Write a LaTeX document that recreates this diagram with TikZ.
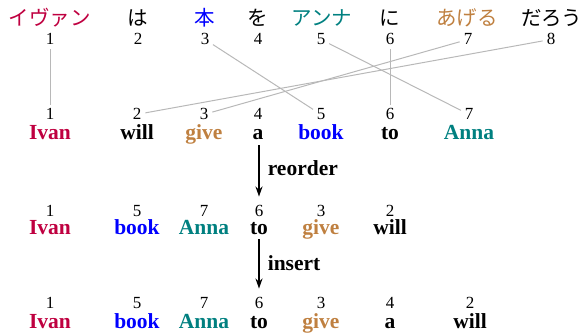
\documentclass[tikz,border=0pt]{standalone}
\usepackage{fontspec}
\setmainfont{Liberation Serif}
\newfontfamily\jp{Noto Sans CJK JP}
\usetikzlibrary{arrows.meta}
\begin{document}
\begin{tikzpicture}[x=1pt,y=-1pt,
  num/.style={font=\fontsize{17}{17}\selectfont, inner sep=1pt, anchor=base},
  wd/.style={font=\fontsize{21.5}{21.5}\selectfont\bfseries, inner sep=0pt, anchor=base},
  jw/.style={font=\fontsize{20.5}{20.5}\selectfont\jp, inner sep=0pt, anchor=base},
  link/.style={draw=black!28, line width=1pt, shorten <=3pt, shorten >=3pt},
  flow/.style={-{Stealth[length=10pt,width=7pt]}, line width=1.6pt, shorten <=5pt, shorten >=7pt},
  lab/.style={font=\fontsize{21.5}{21.5}\selectfont\bfseries, anchor=west, inner sep=0pt, xshift=8pt}
]
\useasboundingbox (0,0) rectangle (584,334);
% Japanese sentence
\node[jw, text=purple] (j1) at (50,26) {イヴァン};
\node[jw] (j2) at (138,26) {は};
\node[jw, text=blue] (j3) at (205,26) {本};
\node[jw] (j4) at (258,26) {を};
\node[jw, text=teal] (j5) at (322,26) {アンナ};
\node[jw] (j6) at (390,26) {に};
\node[jw, text=brown] (j7) at (467,26) {あげる};
\node[jw] (j8) at (552,26) {だろう};
% top numbers
\node[num] (t1) at (50,45) {1};
\node[num] (t2) at (138,45) {2};
\node[num] (t3) at (205,45) {3};
\node[num] (t4) at (258,45) {4};
\node[num] (t5) at (321,45) {5};
\node[num] (t6) at (390,45) {6};
\node[num] (t7) at (468,45) {7};
\node[num] (t8) at (551,45) {8};
% row 2
\node[num] (b1) at (50,120) {1};
\node[num] (b2) at (137,120) {2};
\node[num] (b3) at (204,120) {3};
\node[num] (b4) at (258,120) {4};
\node[num] (b5) at (321,120) {5};
\node[num] (b6) at (390,120) {6};
\node[num] (b7) at (469,120) {7};
\node[wd, text=purple] (w1) at (50,140) {Ivan};
\node[wd] (w2) at (137,140) {will};
\node[wd, text=brown] (w3) at (204,140) {give};
\node[wd] (w4) at (258,140) {a};
\node[wd, text=blue] (w5) at (321,140) {book};
\node[wd] (w6) at (390,140) {to};
\node[wd, text=teal] (w7) at (469,140) {Anna};
% alignment links
\draw[link] (t1) -- (b1);
\draw[link] (t3) -- (b5);
\draw[link] (t5) -- (b7);
\draw[link] (t6) -- (b6);
\draw[link] (t7) -- (b3);
\draw[link] (t8) -- (b2);
% row 3
\node[num] (m1) at (50,216) {1};
\node[num] (m2) at (137,216) {5};
\node[num] (m3) at (204,216) {7};
\node[num] (m4) at (259,216) {6};
\node[num] (m5) at (321,216) {3};
\node[num] (m6) at (390,216) {2};
\node[wd, text=purple] (v1) at (50,234) {Ivan};
\node[wd, text=blue] (v2) at (137,234) {book};
\node[wd, text=teal] (v3) at (204,234) {Anna};
\node[wd] (v4) at (259,234) {to};
\node[wd, text=brown] (v5) at (321,234) {give};
\node[wd] (v6) at (390,234) {will};
% row 4
\node[num] (n1) at (50,308) {1};
\node[num] (n2) at (137,308) {5};
\node[num] (n3) at (204,308) {7};
\node[num] (n4) at (259,308) {6};
\node[num] (n5) at (321,308) {3};
\node[num] (n6) at (390,308) {4};
\node[num] (n7) at (470,308) {2};
\node[wd, text=purple] (u1) at (50,328) {Ivan};
\node[wd, text=blue] (u2) at (137,328) {book};
\node[wd, text=teal] (u3) at (204,328) {Anna};
\node[wd] (u4) at (259,328) {to};
\node[wd, text=brown] (u5) at (321,328) {give};
\node[wd] (u6) at (390,328) {a};
\node[wd] (u7) at (470,328) {will};
% steps
\draw[flow] (w4.south -| m4) -- (m4.north) node[lab, midway, yshift=4pt] {reorder};
\draw[flow] (v4.south -| n4) -- (n4.north) node[lab, midway, yshift=2pt] {insert};
\end{tikzpicture}
\end{document}
